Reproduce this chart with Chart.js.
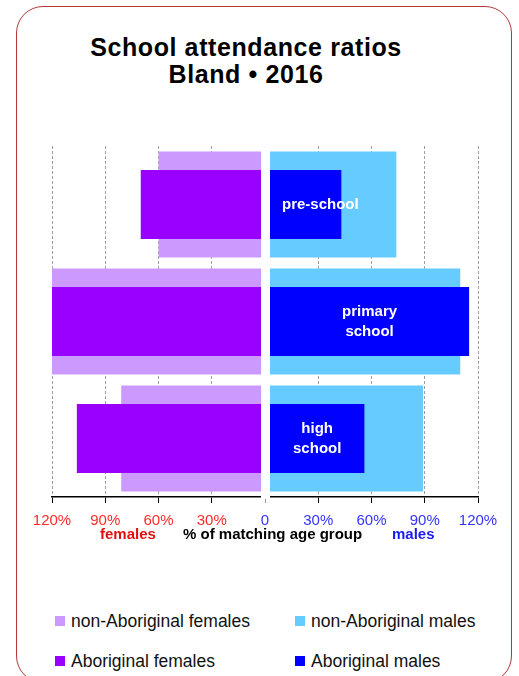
<!DOCTYPE html>
<html lang="en">
<head>
    <meta charset="UTF-8">
    <title>School attendance ratios - Bland 2016</title>
    <style>
        body { margin: 0; padding: 0; background: #fff; font-family: Arial, "Liberation Sans", sans-serif; }
        .page { position: relative; width: 519px; height: 676px; overflow: hidden; }
        .frame { position: absolute; left: 16px; top: 6px; width: 496px; height: 677px;
                 border: 1px solid #b03a3a; border-radius: 27px; box-sizing: border-box; }
        .title { position: absolute; left: 46px; width: 400px; top: 34px; text-align: center;
                 font-weight: bold; font-size: 25px; line-height: 27px; letter-spacing: 0.6px; color: #000; }
        .chart-box { position: absolute; left: 0; top: 140px; width: 519px; height: 400px; }
        .axis-title { position: absolute; top: 525px; font-weight: bold; font-size: 15px; line-height: 18px; white-space: nowrap; }
        .legend-item { position: absolute; font-size: 17.5px; line-height: 20px; white-space: nowrap; color: #111; }
        .legend-item span.box { position: absolute; left: -16px; top: 5px; width: 10px; height: 10px; }
    </style>
    <script src="https://cdn.jsdelivr.net/npm/chart.js"></script>
</head>
<body>

<div class="page">
    <div class="frame"></div>
    <div class="title">School attendance ratios<br>Bland &bull; 2016</div>

    <div class="chart-box">
        <canvas id="myChart" width="519" height="400"></canvas>
    </div>

    <!-- axis title in three colours -->
    <div class="axis-title" style="left:100px; color:#e01010;">females</div>
    <div class="axis-title" style="left:183px; color:#000;">% of matching age group</div>
    <div class="axis-title" style="left:392px; color:#1a1aee;">males</div>

    <!-- legend, 2 x 2 -->
    <div id="legend"></div>
</div>

<script>
    // categories (lines of the in-bar labels)
    const categories = [['pre-school'], ['primary', 'school'], ['high', 'school']];

    // % of matching age group
    const nonAboriginalFemales = [60, 121, 81];
    const aboriginalFemales    = [70, 124, 106];
    const nonAboriginalMales   = [74, 110, 89];
    const aboriginalMales      = [43, 115, 56];

    const tickValues = [-120, -90, -60, -30, 0, 30, 60, 90, 120];

    const colors = {
        nonAboFem: '#cc99ff',
        aboFem: '#9900ff',
        nonAboMale: '#66ccff',
        aboMale: '#0000ff'
    };

    // gap in the middle + white labels in the Aboriginal males bars
    const middlePlugin = {
        id: 'middle',
        afterDatasetsDraw(chart) {
            const ctx = chart.ctx;
            const area = chart.chartArea;
            const x0 = chart.scales.x.getPixelForValue(0);
            ctx.save();
            ctx.fillStyle = '#fff';
            ctx.fillRect(x0 - 4, area.top - 1, 9, area.bottom - area.top + 3);

            ctx.fillStyle = '#fff';
            ctx.font = 'bold 15px Arial, "Liberation Sans", sans-serif';
            ctx.textAlign = 'center';
            ctx.textBaseline = 'middle';
            const meta = chart.getDatasetMeta(3);
            meta.data.forEach((bar, i) => {
                const lines = categories[i];
                const start = x0 + 5;
                const w = Math.max(...lines.map(l => ctx.measureText(l).width));
                let cx = (start + bar.x) / 2;
                cx = Math.max(cx, start + w / 2 + 12);
                const lh = 20;
                lines.forEach((l, k) => {
                    ctx.fillText(l, cx, bar.y + (k - (lines.length - 1) / 2) * lh);
                });
            });
            ctx.restore();
        }
    };

    const ctx = document.getElementById('myChart').getContext('2d');
    const myChart = new Chart(ctx, {
        type: 'bar',
        data: {
            labels: categories.map(c => c.join(' ')),
            datasets: [
                { label: 'non-Aboriginal females', data: nonAboriginalFemales.map(v => -v),
                  backgroundColor: colors.nonAboFem, barPercentage: 0.906, order: 2 },
                { label: 'non-Aboriginal males', data: nonAboriginalMales,
                  backgroundColor: colors.nonAboMale, barPercentage: 0.906, order: 2 },
                { label: 'Aboriginal females', data: aboriginalFemales.map(v => -v),
                  backgroundColor: colors.aboFem, barPercentage: 0.588, order: 1 },
                { label: 'Aboriginal males', data: aboriginalMales,
                  backgroundColor: colors.aboMale, barPercentage: 0.588, order: 1 }
            ]
        },
        options: {
            indexAxis: 'y',
            responsive: false,
            animation: false,
            datasets: { bar: { grouped: false, categoryPercentage: 1, borderWidth: 0 } },
            layout: { padding: { left: 52, right: 41, top: 6, bottom: 1 } },
            plugins: { legend: { display: false }, tooltip: { enabled: false }, title: { display: false } },
            scales: {
                x: {
                    min: -120, max: 120,
                    afterBuildTicks: axis => { axis.ticks = tickValues.map(v => ({ value: v })); },
                    ticks: {
                        padding: 9,
                        font: { size: 15, family: 'Arial, "Liberation Sans", sans-serif' },
                        color: c => c.tick.value < 0 ? '#ff2a2a' : '#3333ff',
                        callback: v => v === 0 ? '0' : Math.abs(v) + '%'
                    },
                    grid: {
                        color: c => c.tick.value === 0 ? 'rgba(0,0,0,0)' : '#a0a0a0',
                        tickColor: c => c.tick.value === 0 ? '#999' : '#000',
                        tickLength: 6,
                        lineWidth: 1
                    },
                    border: { color: '#000', width: 1.5, dash: [3, 2] }
                },
                y: { display: false }
            }
        },
        plugins: [middlePlugin]
    });

    // legend (2 columns)
    const legendItems = [
        ['non-Aboriginal females', colors.nonAboFem, 71, 611],
        ['non-Aboriginal males', colors.nonAboMale, 311, 611],
        ['Aboriginal females', colors.aboFem, 71, 651],
        ['Aboriginal males', colors.aboMale, 311, 651]
    ];
    const legend = document.getElementById('legend');
    legendItems.forEach(([text, col, x, y]) => {
        const d = document.createElement('div');
        d.className = 'legend-item';
        d.style.left = x + 'px';
        d.style.top = y + 'px';
        d.innerHTML = '<span class="box" style="background:' + col + '"></span>' + text;
        legend.appendChild(d);
    });
</script>

</body>
</html>
